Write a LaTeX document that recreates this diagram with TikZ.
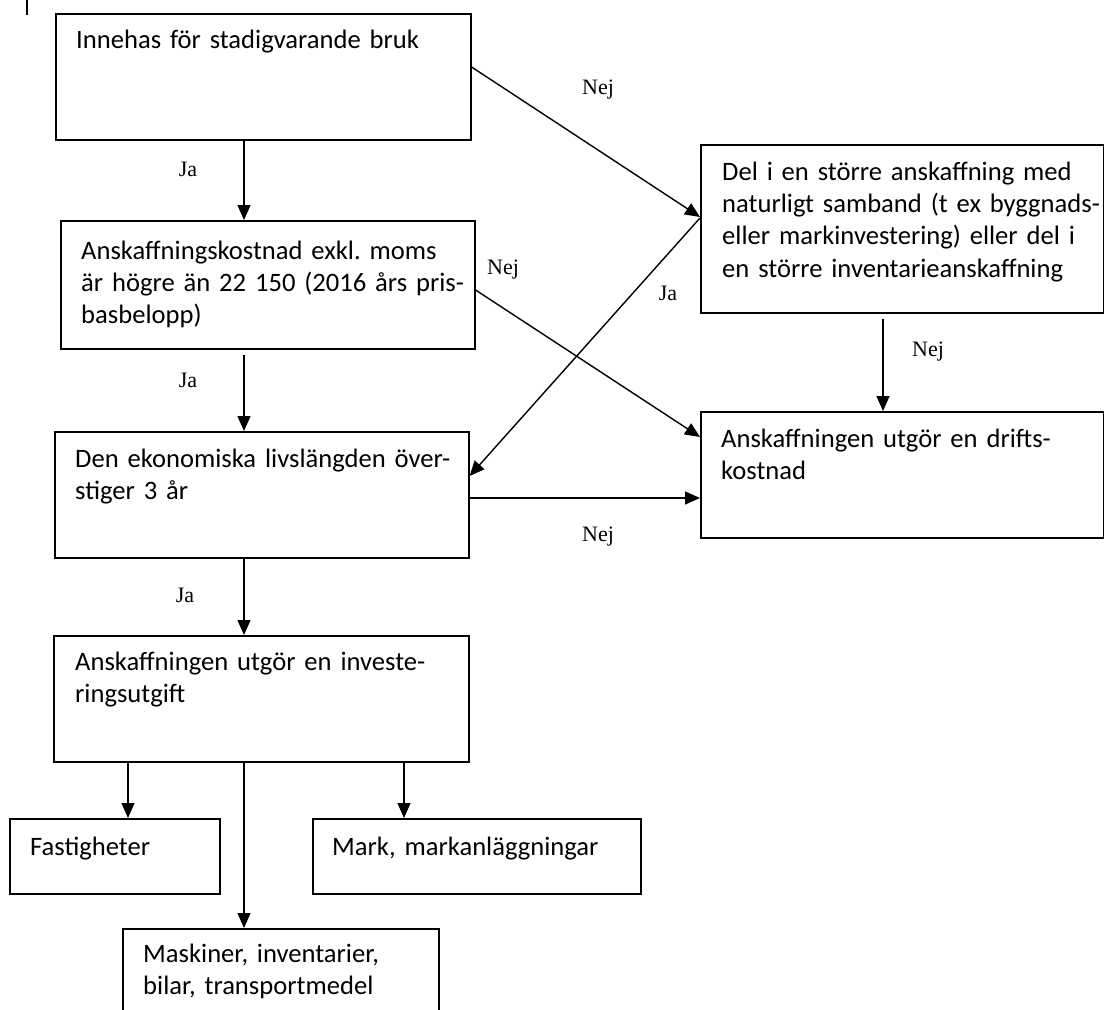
\documentclass[tikz,border=0pt]{standalone}
\usepackage{fontspec}
\setmainfont{Carlito}
\newfontfamily\tms{Liberation Serif}
\usetikzlibrary{arrows.meta,calc}
\frenchspacing
\begin{document}
\begin{tikzpicture}[x=1pt,y=-1pt,
  box/.style={draw, line width=1.6pt, inner sep=0pt, anchor=north west},
  txt/.style={anchor=base west, inner sep=0pt, text width=400pt, align=left,
    font=\fontsize{26.6}{32.4}\selectfont},
  lbl/.style={inner sep=0pt, font=\tms\fontsize{22}{24}\selectfont},
  arr/.style={line width=1.4pt, -{Triangle[length=15pt,width=13pt]}}]
\fill[white] (0,0) rectangle (1104,1010);
\useasboundingbox (0,0) rectangle (1104,1010);
\clip (0,0) rectangle (1104,1010);

% small mark top left
\coordinate (m1) at (27,0);
\coordinate (m2) at (27,15);
\draw[line width=1.4pt] (m1) -- (m2);

% boxes
\node[box, minimum width=415pt, minimum height=126pt] (b1) at (55,13) {};
\node[box, minimum width=414pt, minimum height=128pt] (b2) at (60,220) {};
\node[box, minimum width=403pt, minimum height=168pt] (b3) at (700,144) {};
\node[box, minimum width=414pt, minimum height=126pt] (b4) at (54,431) {};
\node[box, minimum width=403pt, minimum height=126pt] (b5) at (700,411) {};
\node[box, minimum width=415pt, minimum height=126pt] (b6) at (53,635) {};
\node[box, minimum width=210pt, minimum height=75pt] (bf) at (9,818) {};
\node[box, minimum width=328pt, minimum height=75pt] (bm) at (312,818) {};
\node[box, minimum width=316pt, minimum height=130pt] (b7) at (122,928) {};

% texts
\node[txt] (t1) at (76,48) {Innehas för stadigvarande bruk};
\node[txt] (t2) at (81,259) {Anskaffningskostnad exkl. moms\\är högre än 22 150 (2016 års pris-\\basbelopp)};
\node[txt] (t3) at (722,180) {Del i en större anskaffning med\\naturligt samband (t ex byggnads-\\eller markinvestering) eller del i\\en större inventarieanskaffning};
\node[txt] (t4) at (75,467) {Den ekonomiska livslängden över-\\stiger 3 år};
\node[txt] (t5) at (721,447) {Anskaffningen utgör en drifts-\\kostnad};
\node[txt] (t6) at (75,670) {Anskaffningen utgör en investe-\\ringsutgift};
\node[txt] (tf) at (30,855) {Fastigheter};
\node[txt] (tm) at (332,855) {Mark, markanläggningar};
\node[txt] (t7) at (143,962) {Maskiner, inventarier,\\bilar, transportmedel};

% x positions of vertical connectors
\coordinate (xa) at (244,0);
\coordinate (xl) at (128,0);
\coordinate (xr) at (404,0);
\coordinate (xn) at (883,0);

% connectors
\draw[arr] (b1.south -| xa) -- (b2.north -| xa);
\draw[arr] ($(b1.north east)+(0,54)$) -- ($(b3.north west)+(0,73)$);
\draw[arr] ($(b2.north east)+(0,70)$) -- ($(b5.north west)+(0,26)$);
\draw[arr] ($(b3.north west)+(0,74)$) -- ($(b4.north east)+(0,45)$);
\draw[arr] ($(b2.south -| xa)+(0,5)$) -- (b4.north -| xa);
\draw[arr] ($(b3.south -| xn)+(0,5)$) -- (b5.north -| xn);
\draw[arr] ($(b4.north east)+(0,67)$) -- ($(b5.north west)+(0,87)$);
\draw[arr] (b4.south -| xa) -- (b6.north -| xa);
\draw[arr] (b6.south -| xl) -- (bf.north -| xl);
\draw[arr] (b6.south -| xa) -- (b7.north -| xa);
\draw[arr] (b6.south -| xr) -- (bm.north -| xr);

% labels
\node[lbl] (l1) at (598,90) {Nej};
\node[lbl] (l2) at (188,169) {Ja};
\node[lbl] (l3) at (503,270) {Nej};
\node[lbl] (l4) at (668,293) {Ja};
\node[lbl] (l5) at (188,380) {Ja};
\node[lbl] (l6) at (928,352) {Nej};
\node[lbl] (l7) at (598,537) {Nej};
\node[lbl] (l8) at (185,595) {Ja};
\end{tikzpicture}
\end{document}
